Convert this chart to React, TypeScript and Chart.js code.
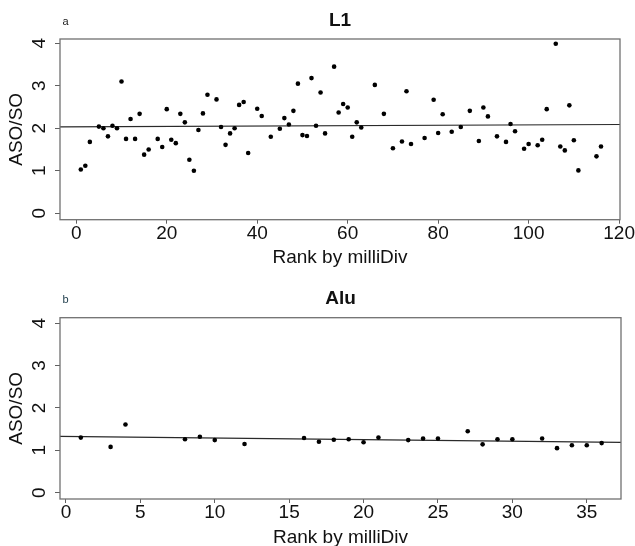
import React, { useEffect, useRef } from "react";
import { Chart, registerables } from "chart.js";

Chart.register(...registerables);

// ---------- Panel a : L1 ----------
const l1Ranks = [1, 2, 3, 5, 6, 7, 8, 9, 10, 11, 12, 13, 14, 15, 16, 18, 19, 20, 21, 22, 23, 24, 25, 26, 27, 28, 29, 31, 32, 33, 34, 35, 36, 37, 38, 40, 41, 43, 45, 46, 47, 48, 49, 50, 51, 52, 53, 54, 55, 57, 58, 59, 60, 61, 62, 63, 66, 68, 70, 72, 73, 74, 77, 79, 80, 81, 83, 85, 87, 89, 90, 91, 93, 95, 96, 97, 99, 100, 102, 103, 104, 106, 107, 108, 109, 110, 111, 115, 116];
const l1Values = [1.03, 1.12, 1.68, 2.04, 2.0, 1.81, 2.06, 2.0, 3.1, 1.75, 2.22, 1.75, 2.34, 1.38, 1.5, 1.75, 1.56, 2.45, 1.73, 1.65, 2.34, 2.14, 1.26, 1.0, 1.96, 2.35, 2.79, 2.68, 2.03, 1.61, 1.88, 2.0, 2.55, 2.62, 1.42, 2.46, 2.29, 1.8, 1.99, 2.24, 2.09, 2.41, 3.05, 1.84, 1.82, 3.18, 2.06, 2.84, 1.88, 3.45, 2.37, 2.57, 2.49, 1.8, 2.14, 2.02, 3.02, 2.34, 1.53, 1.69, 2.87, 1.63, 1.77, 2.67, 1.89, 2.33, 1.92, 2.03, 2.41, 1.7, 2.49, 2.28, 1.81, 1.68, 2.1, 1.93, 1.52, 1.63, 1.6, 1.73, 2.45, 3.99, 1.57, 1.48, 2.54, 1.72, 1.01, 1.34, 1.57];
const l1XTicks = [0, 20, 40, 60, 80, 100, 120];
const l1Fit = [2.035, 0.00045]; // intercept, slope

// ---------- Panel b : Alu ----------
const aluRanks = [1, 3, 4, 8, 9, 10, 12, 16, 17, 18, 19, 20, 21, 23, 24, 25, 27, 28, 29, 30, 32, 33, 34, 35, 36];
const aluValues = [1.3, 1.08, 1.61, 1.26, 1.32, 1.24, 1.15, 1.29, 1.2, 1.25, 1.26, 1.19, 1.3, 1.24, 1.28, 1.28, 1.45, 1.14, 1.26, 1.26, 1.28, 1.05, 1.12, 1.12, 1.17];
const aluXTicks = [0, 5, 10, 15, 20, 25, 30, 35];
const aluFit = [1.325, -0.0037];

const yTicks = [0, 1, 2, 3, 4];
const yTitle = "ASO/SO";
const xTitle = "Rank by milliDiv";

const FONT = "'Liberation Sans', Arial, sans-serif";

type PanelProps = {
  ranks: number[];
  values: number[];
  xTicks: number[];
  fit: number[];
  xMin: number;
  xMax: number;
  yMin: number;
  yMax: number;
  title: string;
  letter: string;
  letterColor: string;
  padTop: number;
  padRight: number;
  xAxisHeight: number;
  top: number;
  titleY: number;
};

function Panel(p: PanelProps) {
  const ref = useRef<HTMLCanvasElement | null>(null);
  useEffect(() => {
    const canvas = ref.current;
    if (!canvas) return;
    const pts = p.ranks.map((r, i) => ({ x: r, y: p.values[i] }));
    const fitPts = [p.xMin, p.xMax].map((x) => ({ x, y: p.fit[0] + p.fit[1] * x }));

    const textPlugin = {
      id: "rtext",
      afterDraw(chart: any) {
        const ctx = chart.ctx;
        const ca = chart.chartArea;
        const xs = chart.scales.x;
        const ys = chart.scales.y;
        ctx.save();
        // box
        ctx.strokeStyle = "#707070";
        ctx.lineWidth = 1.3;
        ctx.strokeRect(ca.left, ca.top, ca.right - ca.left, ca.bottom - ca.top);
        ctx.fillStyle = "#111";
        // x tick labels
        ctx.font = `19px ${FONT}`;
        ctx.textAlign = "center";
        ctx.textBaseline = "middle";
        p.xTicks.forEach((v) => {
          ctx.fillText(String(v), xs.getPixelForValue(v), ca.bottom + 14);
        });
        // x title
        ctx.fillText(xTitle, (ca.left + ca.right) / 2, ca.bottom + 38.5);
        // y tick labels (rotated)
        yTicks.forEach((v) => {
          ctx.save();
          ctx.translate(39.5, ys.getPixelForValue(v));
          ctx.rotate(-Math.PI / 2);
          ctx.fillText(String(v), 0, 0);
          ctx.restore();
        });
        // y title
        ctx.save();
        ctx.translate(17, (ca.top + ca.bottom) / 2);
        ctx.rotate(-Math.PI / 2);
        ctx.fillText(yTitle, 0, 0);
        ctx.restore();
        // main title
        ctx.font = `bold 19px ${FONT}`;
        ctx.fillText(p.title, (ca.left + ca.right) / 2, p.titleY);
        // panel letter
        ctx.font = `11px ${FONT}`;
        ctx.fillStyle = p.letterColor;
        ctx.fillText(p.letter, 65.5, p.titleY + 1);
        ctx.restore();
      },
    };

    const chart = new Chart(canvas, {
      type: "scatter",
      data: {
        datasets: [
          {
            type: "scatter",
            data: pts,
            pointRadius: 2.3,
            pointBackgroundColor: "#000",
            pointBorderWidth: 0,
            pointBorderColor: "#000",
          } as any,
          {
            type: "line",
            data: fitPts,
            borderColor: "#2a2a2a",
            borderWidth: 1.2,
            pointRadius: 0,
            fill: false,
          } as any,
        ],
      },
      options: {
        animation: false,
        responsive: false,
        maintainAspectRatio: false,
        events: [],
        layout: {
          autoPadding: false,
          padding: { top: p.padTop, right: p.padRight, bottom: 0, left: 0 },
        } as any,
        plugins: {
          legend: { display: false },
          tooltip: { enabled: false },
          title: { display: false },
        },
        scales: {
          x: {
            type: "linear",
            min: p.xMin,
            max: p.xMax,
            afterBuildTicks: (s: any) => {
              s.ticks = p.xTicks.map((v) => ({ value: v }));
            },
            afterFit: (s: any) => {
              s.height = p.xAxisHeight;
            },
            ticks: { display: false },
            grid: { drawOnChartArea: false, drawTicks: true, tickLength: 4, color: "#606060", lineWidth: 1 },
            border: { display: false },
          },
          y: {
            type: "linear",
            min: p.yMin,
            max: p.yMax,
            afterBuildTicks: (s: any) => {
              s.ticks = yTicks.map((v) => ({ value: v }));
            },
            afterFit: (s: any) => {
              s.width = 60;
            },
            ticks: { display: false },
            grid: { drawOnChartArea: false, drawTicks: true, tickLength: 5, color: "#606060", lineWidth: 1 },
            border: { display: false },
          },
        },
      } as any,
      plugins: [textPlugin],
    });
    return () => chart.destroy();
  }, []);
  return (
    <canvas
      ref={ref}
      width={635}
      height={273}
      style={{ position: "absolute", left: 0, top: p.top, width: 635, height: 273 }}
    />
  );
}

export default function App() {
  return (
    <div style={{ position: "absolute", left: 0, top: 0, width: 635, height: 546, background: "#fff" }}>
      <Panel
        ranks={l1Ranks}
        values={l1Values}
        xTicks={l1XTicks}
        fit={l1Fit}
        xMin={-3.6}
        xMax={120.2}
        yMin={-0.15}
        yMax={4.1}
        title="L1"
        letter="a"
        letterColor="#222"
        padTop={39}
        padRight={15}
        xAxisHeight={53.3}
        top={0}
        titleY={21}
      />
      <Panel
        ranks={aluRanks}
        values={aluValues}
        xTicks={aluXTicks}
        fit={aluFit}
        xMin={-0.4}
        xMax={37.3}
        yMin={-0.15}
        yMax={4.13}
        title="Alu"
        letter="b"
        letterColor="#1d3b4a"
        padTop={44.7}
        padRight={14}
        xAxisHeight={47}
        top={273}
        titleY={26}
      />
    </div>
  );
}
